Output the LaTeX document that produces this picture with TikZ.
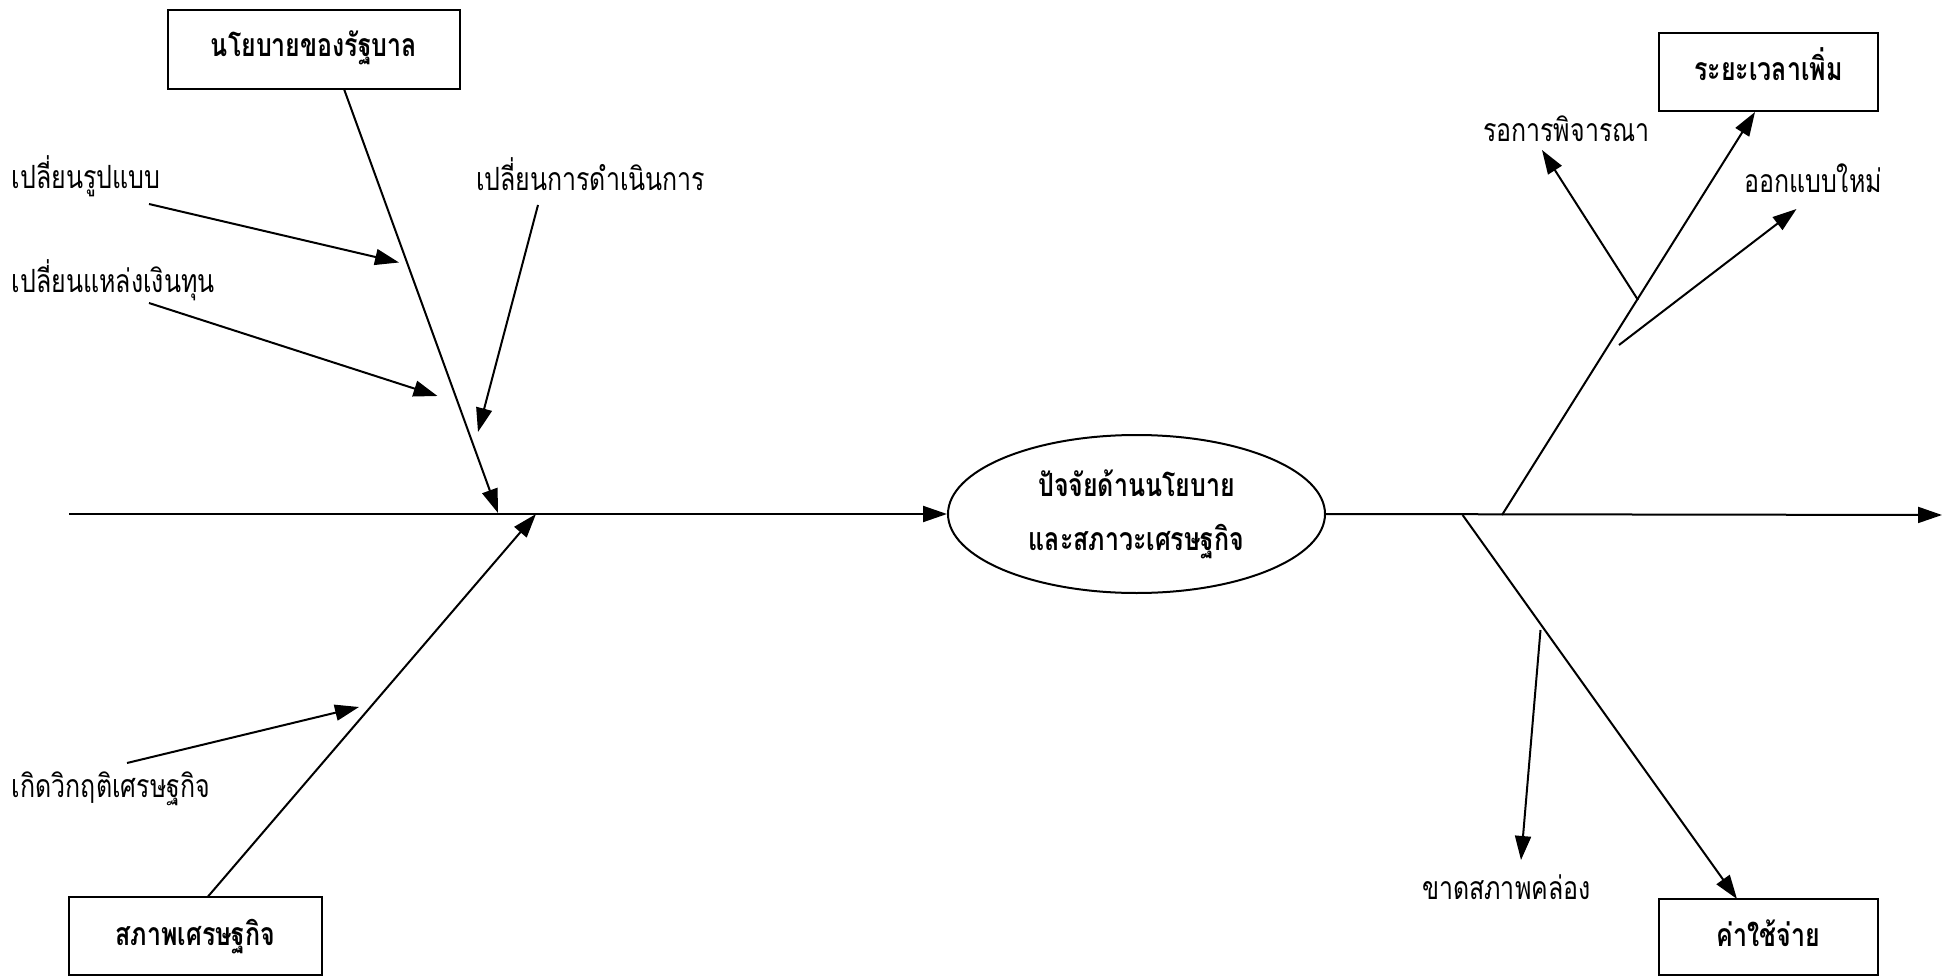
\documentclass[tikz,border=0pt]{standalone}
\usepackage{fontspec}
\newfontfamily\thai[Script=Thai,FakeStretch=0.78]{Loma}
\newfontfamily\thaib[Script=Thai,FakeStretch=0.78,BoldFont={* Bold}]{Loma}
\usetikzlibrary{arrows.meta,shapes.geometric}
\begin{document}
\begin{tikzpicture}[x=1pt,y=-1pt,
  line width=2pt,
  arr/.style={-{Triangle[length=24pt,width=16pt]}},
  lab/.style={anchor=base west,inner sep=0pt,font=\thai\fontsize{32}{32}\selectfont},
  boxn/.style={draw,rectangle,inner sep=0pt,font=\thaib\bfseries\fontsize{32}{32}\selectfont},
  ell/.style={draw,ellipse,inner sep=0pt,minimum width=377pt,minimum height=158pt,
    align=center,font=\thaib\bfseries\fontsize{32}{54}\selectfont}
]
\useasboundingbox (0,0) rectangle (1943,976);
\fill[white] (0,0) rectangle (1943,976);

% boxes
\node[boxn,minimum width=292pt,minimum height=79pt,text height=47pt,text depth=32pt] (tl) at (314,49.5) {นโยบายของรัฐบาล};
\node[boxn,minimum width=253pt,minimum height=78pt,text height=48pt,text depth=30pt] (bl) at (195.5,936) {สภาพเศรษฐกิจ};
\node[boxn,minimum width=219pt,minimum height=78pt,text height=48pt,text depth=30pt] (tr) at (1768.5,72) {ระยะเวลาเพิ่ม};
\node[boxn,minimum width=219pt,minimum height=76pt,text height=47pt,text depth=29pt] (br) at (1768.5,937) {ค่าใช้จ่าย};
\node[ell] (e) at (1136.5,514) {ปัจจัยด้านนโยบาย\\และสภาวะเศรษฐกิจ};

% labels
\node[lab] (l1) at (11,189) {เปลี่ยนรูปแบบ};
\node[lab] (l2) at (11,293) {เปลี่ยนแหล่งเงินทุน};
\node[lab] (l3) at (475,191) {เปลี่ยนการดำเนินการ};
\node[lab] (l4) at (11,797) {เกิดวิกฤติเศรษฐกิจ};
\node[lab] (r1) at (1482,142) {รอการพิจารณา};
\node[lab] (r2) at (1743,193) {ออกแบบใหม่};
\node[lab] (r3) at (1421,899) {ขาดสภาพคล่อง};

% coordinates
\coordinate (s0) at (69,514);
\coordinate (j1) at (498,513);
\coordinate (j2) at (536,514);
\coordinate (s1) at (1942,515);
\coordinate (k1) at (1502,515);
\coordinate (k2) at (1462.6,515);
\coordinate (tlb) at (344,89);
\coordinate (blt) at (207.6,897);
\coordinate (trb) at (1755,112);
\coordinate (brt) at (1737,899);
\coordinate (a1s) at (149,204);  \coordinate (a1e) at (399,262.5);
\coordinate (a2s) at (149,303);  \coordinate (a2e) at (437.5,396);
\coordinate (a3s) at (538,205);  \coordinate (a3e) at (478,432);
\coordinate (a4s) at (127,763);  \coordinate (a4e) at (359,707);
\coordinate (b1s) at (1638,300); \coordinate (b1e) at (1542,150);
\coordinate (b2s) at (1619,345); \coordinate (b2e) at (1796.5,209);
\coordinate (b3s) at (1540.5,630); \coordinate (b3e) at (1521,860);

% spine
\draw[arr] (s0) -- (e.west);
\draw[arr] (e.east) -- (s1);
% main bones
\draw[arr] (tlb) -- (j1);
\draw[arr] (blt) -- (j2);
\draw[arr] (k1) -- (trb);
\draw[arr] (k2) -- (brt);
% small bones
\draw[arr] (a1s) -- (a1e);
\draw[arr] (a2s) -- (a2e);
\draw[arr] (a3s) -- (a3e);
\draw[arr] (a4s) -- (a4e);
\draw[arr] (b1s) -- (b1e);
\draw[arr] (b2s) -- (b2e);
\draw[arr] (b3s) -- (b3e);
\end{tikzpicture}
\end{document}
